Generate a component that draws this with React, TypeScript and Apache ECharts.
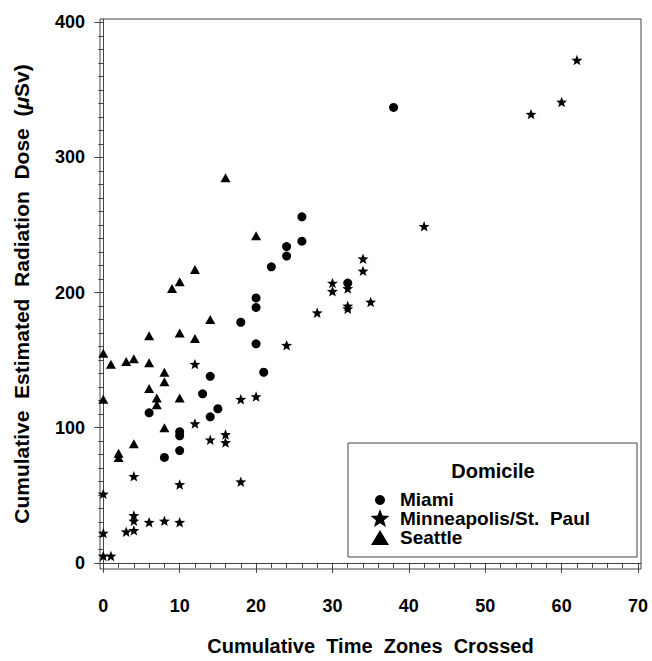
import React, { useEffect, useRef } from 'react';
import * as echarts from 'echarts';

// [time zones crossed, dose µSv]
const miami: number[][] = [
  [38, 337], [26, 256], [26, 238], [24, 234], [24, 227], [22, 219], [20, 196], [20, 189],
  [18, 178], [20, 162], [21, 141], [32, 207], [14, 138], [13, 125], [15, 114], [14, 108],
  [6, 111], [10, 97], [10, 94], [10, 83], [8, 78],
];
const minneapolis: number[][] = [
  [62, 372], [60, 341], [56, 332], [42, 249], [34, 225], [34, 216], [30, 207], [30, 201],
  [32, 203], [32, 190], [32, 188], [35, 193], [28, 185], [24, 161], [20, 123], [18, 121],
  [12, 147], [12, 103], [14, 91], [16, 95], [16, 89], [18, 60], [4, 64], [10, 58], [0, 51],
  [4, 35], [4, 31], [6, 30], [8, 31], [10, 30], [0, 22], [3, 23], [4, 24], [0, 5], [1, 5],
];
const seattle: number[][] = [
  [16, 285], [20, 242], [12, 217], [10, 208], [9, 203], [14, 180], [6, 168], [10, 170],
  [12, 166], [0, 155], [1, 147], [3, 149], [4, 151], [6, 148], [8, 141], [8, 134], [0, 121],
  [6, 129], [7, 122], [7, 117], [10, 122], [8, 100], [4, 88], [2, 81], [2, 78],
];

const xMajor = [0, 10, 20, 30, 40, 50, 60, 70];
const yMajor = [0, 100, 200, 300, 400];
const xMinor = Array.from({ length: 36 }, (_, i) => i * 2).filter((v) => v % 10 !== 0);
const yMinor = Array.from({ length: 41 }, (_, i) => i * 10).filter((v) => v % 100 !== 0);

const FONT = '"Liberation Sans", Arial, sans-serif';
const SP = ' \u00a0';

const STAR_PATH =
  'path://M0,-100 L24.69,-33.98 L95.1,-30.9 L39.94,12.98 L58.8,80.9 L0,42 L-58.8,80.9 L-39.94,12.98 L-95.1,-30.9 L-24.69,-33.98 Z';

function starPoints(cx: number, cy: number, r: number): number[][] {
  const pts: number[][] = [];
  for (let i = 0; i < 10; i++) {
    const rr = i % 2 === 0 ? r : r * 0.42;
    const a = (-90 + i * 36) * (Math.PI / 180);
    pts.push([cx + rr * Math.cos(a), cy + rr * Math.sin(a)]);
  }
  return pts;
}

export default function App() {
  const ref = useRef<HTMLDivElement>(null);
  useEffect(() => {
    const chart = echarts.init(ref.current!, null, { renderer: 'svg' });
    const lineColor = '#444';
    const labelStyle = { color: '#000', fontSize: 18, fontWeight: 'bold' as const, fontFamily: FONT };
    const legendFont = `bold 19px ${FONT}`;
    const option: any = {
      animation: false,
      backgroundColor: '#fff',
      grid: {
        left: 100,
        right: 11,
        top: 19,
        bottom: 84,
        show: true,
        borderColor: lineColor,
        borderWidth: 1,
        backgroundColor: 'transparent',
      },
      xAxis: [
        {
          type: 'value',
          min: -0.43,
          max: 70.39,
          position: 'bottom',
          axisLine: { show: true, lineStyle: { color: lineColor, width: 1 } },
          axisTick: { show: true, length: 10, customValues: xMajor, lineStyle: { color: lineColor } },
          axisLabel: { customValues: xMajor, margin: 28, ...labelStyle },
          splitLine: { show: false },
          name: `Cumulative${SP}Time${SP}Zones${SP}Crossed`,
          nameLocation: 'middle',
          nameGap: 67,
          nameTextStyle: { ...labelStyle, fontSize: 20 },
        },
        {
          type: 'value',
          min: -0.43,
          max: 70.39,
          position: 'bottom',
          axisLine: { show: false },
          axisTick: { show: true, length: 5, customValues: xMinor, lineStyle: { color: lineColor } },
          axisLabel: { show: false },
          splitLine: { show: false },
        },
      ],
      yAxis: [
        {
          type: 'value',
          min: -4.6,
          max: 402.4,
          position: 'left',
          axisLine: { show: true, lineStyle: { color: lineColor, width: 1 } },
          axisTick: { show: true, length: 9, customValues: yMajor, lineStyle: { color: lineColor } },
          axisLabel: { customValues: yMajor, margin: 15, ...labelStyle },
          splitLine: { show: false },
          name: `{n|Cumulative${SP}Estimated${SP}Radiation${SP}Dose${SP}(}{i|μ}{n|Sv)}`,
          nameLocation: 'middle',
          nameGap: 68,
          nameTextStyle: {
            ...labelStyle,
            fontSize: 21,
            rich: {
              n: { ...labelStyle, fontSize: 21 },
              i: { ...labelStyle, fontSize: 21, fontStyle: 'italic' },
            },
          },
        },
        {
          type: 'value',
          min: -4.6,
          max: 402.4,
          position: 'left',
          axisLine: { show: false },
          axisTick: { show: true, length: 5, customValues: yMinor, lineStyle: { color: lineColor } },
          axisLabel: { show: false },
          splitLine: { show: false },
        },
      ],
      series: [
        {
          name: 'Miami',
          type: 'scatter',
          data: miami,
          symbol: 'circle',
          symbolSize: 9,
          itemStyle: { color: '#000', opacity: 1 },
        },
        {
          name: 'Minneapolis/St. Paul',
          type: 'scatter',
          data: minneapolis,
          symbol: STAR_PATH,
          symbolKeepAspect: true,
          symbolSize: 11,
          itemStyle: { color: '#000', opacity: 1 },
        },
        {
          name: 'Seattle',
          type: 'scatter',
          data: seattle,
          symbol: 'triangle',
          symbolSize: [10, 9],
          itemStyle: { color: '#000', opacity: 1 },
        },
      ],
      graphic: [
        {
          type: 'rect',
          z: 100,
          shape: { x: 348, y: 443, width: 289, height: 114 },
          style: { fill: '#fff', stroke: lineColor, lineWidth: 1 },
        },
        {
          type: 'text',
          z: 101,
          x: 493,
          y: 471,
          style: { text: 'Domicile', font: `bold 20px ${FONT}`, fill: '#000', align: 'center', verticalAlign: 'middle' },
        },
        { type: 'circle', z: 101, shape: { cx: 380, cy: 500, r: 5 }, style: { fill: '#000' } },
        {
          type: 'text',
          z: 101,
          x: 400,
          y: 499,
          style: { text: 'Miami', font: legendFont, fill: '#000', align: 'left', verticalAlign: 'middle' },
        },
        { type: 'polygon', z: 101, shape: { points: starPoints(380, 519, 10) }, style: { fill: '#000' } },
        {
          type: 'text',
          z: 101,
          x: 400,
          y: 518,
          style: {
            text: `Minneapolis/St.${SP}Paul`,
            font: legendFont,
            fill: '#000',
            align: 'left',
            verticalAlign: 'middle',
          },
        },
        {
          type: 'polygon',
          z: 101,
          shape: { points: [[371, 545], [389, 545], [380, 530]] },
          style: { fill: '#000' },
        },
        {
          type: 'text',
          z: 101,
          x: 400,
          y: 537,
          style: { text: 'Seattle', font: legendFont, fill: '#000', align: 'left', verticalAlign: 'middle' },
        },
      ],
    };
    chart.setOption(option);
    return () => chart.dispose();
  }, []);
  return <div ref={ref} style={{ position: 'fixed', left: 0, top: 0, width: 652, height: 661 }} />;
}
